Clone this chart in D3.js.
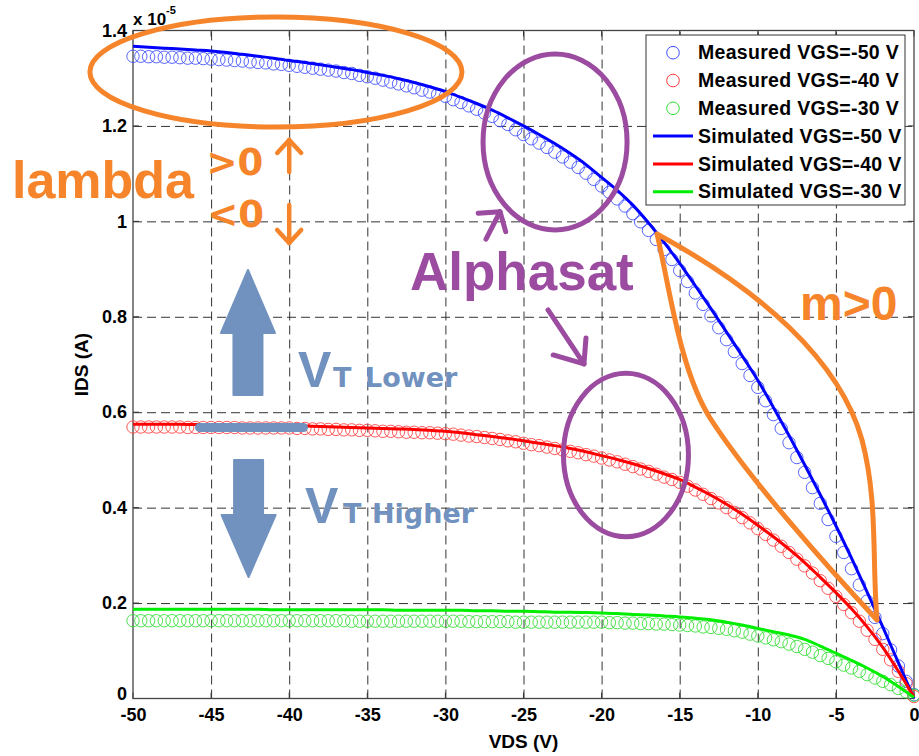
<!DOCTYPE html>
<html>
<head>
<meta charset="utf-8">
<script src="https://cdn.jsdelivr.net/npm/d3@7"></script>
<style>
  body { margin: 0; background: #fff; }
  svg { display: block; }
</style>
</head>
<body>
<svg id="chart" width="919" height="756"></svg>
<script>
// ---- Data: drain current (units of 1e-5 A) vs drain-source voltage ----
const vdsMeasured = [-50,-49.5,-49,-48.5,-48,-47.5,-47,-46.5,-46,-45.5,-45,-44.5,-44,-43.5,-43,-42.5,-42,-41.5,-41,-40.5,
  -40,-39.5,-39,-38.5,-38,-37.5,-37,-36.5,-36,-35.5,-35,-34.5,-34,-33.5,-33,-32.5,-32,-31.5,-31,-30.5,
  -30,-29.5,-29,-28.5,-28,-27.5,-27,-26.5,-26,-25.5,-25,-24.5,-24,-23.5,-23,-22.5,-22,-21.5,-21,-20.5,
  -20,-19.5,-19,-18.5,-18,-17.5,-17,-16.5,-16,-15.5,-15,-14.5,-14,-13.5,-13,-12.5,-12,-11.5,-11,-10.5,
  -10,-9.5,-9,-8.5,-8,-7.5,-7,-6.5,-6,-5.5,-5,-4.5,-4,-3.5,-3,-2.5,-2,-1.5,-1,-0.5,0];

const idsMeasuredVgs50 = [1.346,1.346,1.345,1.345,1.344,1.344,1.343,1.342,1.342,1.341,
  1.340,1.339,1.338,1.337,1.336,1.334,1.333,1.332,1.330,1.329,
  1.327,1.325,1.323,1.321,1.319,1.317,1.315,1.312,1.310,1.306,
  1.303,1.300,1.296,1.292,1.288,1.284,1.280,1.275,1.271,1.266,
  1.262,1.255,1.249,1.242,1.235,1.227,1.220,1.211,1.203,1.192,
  1.182,1.173,1.164,1.155,1.145,1.135,1.124,1.113,1.101,1.088,
  1.074,1.061,1.047,1.032,1.016,0.999,0.981,0.962,0.941,0.920,
  0.897,0.874,0.850,0.826,0.802,0.777,0.752,0.727,0.702,0.677,
  0.652,0.624,0.595,0.566,0.536,0.505,0.474,0.442,0.409,0.375,
  0.340,0.306,0.272,0.238,0.204,0.170,0.136,0.102,0.068,0.036,
  0.008];

const idsMeasuredVgs40 = [0.569,0.569,0.569,0.569,0.569,0.569,0.569,0.568,0.568,0.568,
  0.568,0.568,0.568,0.568,0.567,0.567,0.567,0.567,0.567,0.567,
  0.567,0.566,0.566,0.565,0.565,0.564,0.564,0.563,0.563,0.562,
  0.562,0.561,0.560,0.560,0.559,0.558,0.558,0.557,0.557,0.556,
  0.555,0.554,0.552,0.550,0.549,0.547,0.545,0.543,0.540,0.538,
  0.535,0.532,0.530,0.527,0.524,0.521,0.518,0.515,0.511,0.508,
  0.504,0.500,0.496,0.491,0.486,0.481,0.476,0.470,0.464,0.459,
  0.453,0.445,0.437,0.428,0.419,0.410,0.400,0.390,0.379,0.368,
  0.356,0.344,0.332,0.319,0.306,0.292,0.278,0.263,0.247,0.231,
  0.214,0.197,0.180,0.162,0.143,0.124,0.103,0.081,0.057,0.031,
  0.004];

const idsMeasuredVgs30 = [0.163,0.163,0.163,0.163,0.163,0.163,0.163,0.163,0.163,0.163,
  0.163,0.163,0.163,0.163,0.163,0.163,0.163,0.163,0.163,0.163,
  0.163,0.163,0.163,0.163,0.163,0.163,0.163,0.163,0.162,0.162,
  0.162,0.162,0.162,0.162,0.162,0.162,0.162,0.162,0.162,0.162,
  0.162,0.162,0.162,0.161,0.161,0.161,0.161,0.161,0.161,0.160,
  0.160,0.160,0.160,0.160,0.160,0.160,0.160,0.160,0.160,0.160,
  0.160,0.159,0.159,0.158,0.158,0.157,0.157,0.156,0.156,0.155,
  0.154,0.153,0.152,0.150,0.149,0.147,0.145,0.142,0.139,0.135,
  0.131,0.127,0.123,0.119,0.114,0.109,0.103,0.097,0.090,0.084,
  0.077,0.070,0.064,0.057,0.050,0.043,0.036,0.029,0.021,0.014,
  0.007];

const vdsSimulated = [-50,-49,-48,-47,-46,-45,-44,-43,-42,-41,-40,-39,-38,-37,-36,-35,-34,-33,-32,-31,
  -30,-29,-28,-27,-26,-25,-24,-23,-22,-21,-20,-19,-18,-17,-16,-15,-14,-13,-12,-11,
  -10,-9,-8,-7,-6,-5,-4,-3,-2,-1,0];

const idsSimulatedVgs50 = [1.367,1.365,1.363,1.361,1.359,1.357,1.354,1.350,1.346,1.342,
  1.337,1.333,1.328,1.323,1.318,1.312,1.306,1.299,1.291,1.282,
  1.272,1.260,1.247,1.233,1.217,1.200,1.182,1.163,1.142,1.119,
  1.092,1.065,1.034,0.997,0.956,0.912,0.865,0.817,0.768,0.718,
  0.667,0.610,0.551,0.490,0.427,0.362,0.294,0.223,0.150,0.075,
  0.000];

const idsSimulatedVgs40 = [0.575,0.575,0.575,0.575,0.574,0.574,0.574,0.573,0.573,0.572,
  0.572,0.571,0.570,0.569,0.568,0.567,0.566,0.565,0.564,0.562,
  0.560,0.557,0.553,0.549,0.545,0.540,0.535,0.530,0.524,0.517,
  0.509,0.501,0.492,0.482,0.471,0.459,0.443,0.426,0.407,0.386,
  0.363,0.339,0.313,0.285,0.254,0.222,0.188,0.150,0.107,0.057,
  0.003];

const idsSimulatedVgs30 = [0.187,0.187,0.187,0.187,0.187,0.187,0.187,0.187,0.187,0.186,
  0.186,0.186,0.186,0.186,0.186,0.186,0.186,0.185,0.185,0.185,
  0.185,0.185,0.184,0.184,0.183,0.183,0.182,0.181,0.181,0.180,
  0.179,0.178,0.176,0.175,0.173,0.171,0.168,0.165,0.160,0.154,
  0.147,0.140,0.133,0.124,0.110,0.095,0.080,0.064,0.046,0.025,
  0.002];

const xTickValues = [-50,-45,-40,-35,-30,-25,-20,-15,-10,-5,0];
const xTickLabels = ["-50","-45","-40","-35","-30","-25","-20","-15","-10","-5","0"];
const yTickValues = [0,0.2,0.4,0.6,0.8,1.0,1.2,1.4];
const yTickLabels = ["0","0.2","0.4","0.6","0.8","1","1.2","1.4"];
const legendLabels = ["Measured VGS=-50 V","Measured VGS=-40 V","Measured VGS=-30 V",
  "Simulated VGS=-50 V","Simulated VGS=-40 V","Simulated VGS=-30 V"];

// ---- Layout ----
const W = 919, H = 756;
const plot = { left: 133, right: 914, top: 30.5, bottom: 698.5 };
const FONT = "'Liberation Sans', Arial, Helvetica, sans-serif";
const WIDE = "'DejaVu Sans', Verdana, sans-serif";

const svg = d3.select("#chart");
const x = d3.scaleLinear().domain([-50, 0]).range([plot.left, plot.right]);
const y = d3.scaleLinear().domain([0, 1.4]).range([plot.bottom, plot.top]);

const measured = [
  { values: idsMeasuredVgs50, color: "#3b4bff" },
  { values: idsMeasuredVgs40, color: "#ff3b3b" },
  { values: idsMeasuredVgs30, color: "#2fdc2f" }
];
const simulated = [
  { values: idsSimulatedVgs50, color: "#0000ff" },
  { values: idsSimulatedVgs40, color: "#ff0000" },
  { values: idsSimulatedVgs30, color: "#00ee00" }
];

svg.append("rect").attr("width", W).attr("height", H).attr("fill", "#fff");

// ---- Dashed grid ----
const plotH = plot.bottom - plot.top, plotW = plot.right - plot.left;
svg.append("g")
  .attr("transform", `translate(0,${plot.bottom})`)
  .call(d3.axisBottom(x).tickValues(xTickValues.slice(1, -1)).tickSize(-plotH).tickFormat(""))
  .call(g => g.select(".domain").remove())
  .selectAll("line").attr("stroke", "#333").attr("stroke-width", 1).attr("stroke-dasharray", "9,5");
svg.append("g")
  .attr("transform", `translate(${plot.left},0)`)
  .call(d3.axisLeft(y).tickValues(yTickValues.slice(1, -1)).tickSize(-plotW).tickFormat(""))
  .call(g => g.select(".domain").remove())
  .selectAll("line").attr("stroke", "#333").attr("stroke-width", 1).attr("stroke-dasharray", "9,5");

// ---- Tick labels ----
const xAxisG = svg.append("g")
  .attr("transform", `translate(0,${plot.bottom})`)
  .call(d3.axisBottom(x).tickValues(xTickValues).tickFormat((d, i) => xTickLabels[i]).tickSize(0).tickPadding(10));
xAxisG.select(".domain").remove();
xAxisG.selectAll("text").style("font-family", FONT).style("font-size", "18px").style("font-weight", "bold").attr("fill", "#000");

const yAxisG = svg.append("g")
  .attr("transform", `translate(${plot.left},0)`)
  .call(d3.axisLeft(y).tickValues(yTickValues).tickFormat((d, i) => yTickLabels[i]).tickSize(0).tickPadding(6));
yAxisG.select(".domain").remove();
yAxisG.selectAll("text").style("font-family", FONT).style("font-size", "18px").style("font-weight", "bold").attr("fill", "#000");
// the origin label sits just above the corner so it clears the first x label
yAxisG.selectAll(".tick").filter(d => d === 0).select("text").attr("dy", "0.05em");

// ---- Inward ticks on all four sides ----
const tickG = svg.append("g").attr("stroke", "#333").attr("stroke-width", 1);
xTickValues.forEach(v => {
  tickG.append("line").attr("x1", x(v)).attr("x2", x(v)).attr("y1", plot.bottom).attr("y2", plot.bottom - 6);
  tickG.append("line").attr("x1", x(v)).attr("x2", x(v)).attr("y1", plot.top).attr("y2", plot.top + 6);
});
yTickValues.forEach(v => {
  tickG.append("line").attr("x1", plot.left).attr("x2", plot.left + 6).attr("y1", y(v)).attr("y2", y(v));
  tickG.append("line").attr("x1", plot.right).attr("x2", plot.right - 6).attr("y1", y(v)).attr("y2", y(v));
});

// ---- Axes box ----
svg.append("rect")
  .attr("x", plot.left).attr("y", plot.top).attr("width", plotW).attr("height", plotH)
  .attr("fill", "none").attr("stroke", "#444").attr("stroke-width", 1.3);

// ---- Exponent note and axis titles ----
const expo = svg.append("text").attr("x", plot.left).attr("y", 25)
  .style("font-family", FONT).style("font-weight", "bold").attr("fill", "#000");
expo.append("tspan").style("font-size", "17px").text("x 10");
expo.append("tspan").attr("dy", -11).style("font-size", "11px").text("-5");

svg.append("text")
  .attr("transform", `translate(88,${(plot.top + plot.bottom) / 2}) rotate(-90)`)
  .attr("text-anchor", "middle")
  .style("font-family", FONT).style("font-size", "19px").style("font-weight", "bold")
  .text("IDS (A)");
svg.append("text")
  .attr("x", (plot.left + plot.right) / 2).attr("y", 748)
  .attr("text-anchor", "middle")
  .style("font-family", FONT).style("font-size", "19px").style("font-weight", "bold")
  .text("VDS (V)");

// ---- Measured points (open circles) ----
measured.forEach(s => {
  svg.append("g").selectAll("circle")
    .data(vdsMeasured.map((v, i) => [v, s.values[i]]))
    .join("circle")
    .attr("cx", d => x(d[0])).attr("cy", d => y(d[1])).attr("r", 6.2)
    .attr("fill", "none").attr("stroke", s.color).attr("stroke-width", 1).attr("stroke-opacity", 0.85);
});

// ---- Simulated curves ----
const line = d3.line().x(d => x(d[0])).y(d => y(d[1])).curve(d3.curveMonotoneX);
simulated.forEach(s => {
  svg.append("path")
    .datum(vdsSimulated.map((v, i) => [v, s.values[i]]))
    .attr("d", line).attr("fill", "none").attr("stroke", s.color).attr("stroke-width", 3);
});

// ---- Legend ----
const leg = svg.append("g").attr("transform", "translate(646,35)");
leg.append("rect").attr("width", 259).attr("height", 170).attr("fill", "#fff").attr("stroke", "#333").attr("stroke-width", 1);
legendLabels.forEach((lab, i) => {
  const cy = 17.7 + i * 27.8;
  const isMeasured = i < 3;
  const color = isMeasured ? measured[i].color : simulated[i - 3].color;
  if (isMeasured) {
    leg.append("circle").attr("cx", 27).attr("cy", cy).attr("r", 6.3)
      .attr("fill", "none").attr("stroke", color).attr("stroke-width", 1);
  } else {
    leg.append("line").attr("x1", 7).attr("x2", 47).attr("y1", cy).attr("y2", cy)
      .attr("stroke", color).attr("stroke-width", 3);
  }
  leg.append("text").attr("x", 52).attr("y", cy + 6.6)
    .style("font-family", FONT).style("font-size", "19.5px").style("font-weight", "bold")
    .style("letter-spacing", "0.3px")
    .attr("fill", "#000").text(lab);
});

// ---- Annotations (anchored in VDS / IDS units) ----
const ORANGE = "#f5842a", PURPLE = "#9b4ba0", STEEL = "#7192bf";
const ann = svg.append("g");
const P = (vx, vy) => [x(vx), y(vy)];

function ellipse(cxv, cyv, rxv, ryv, color) {
  ann.append("ellipse")
    .attr("cx", x(cxv)).attr("cy", y(cyv))
    .attr("rx", x(cxv + rxv) - x(cxv)).attr("ry", y(cyv) - y(cyv + ryv))
    .attr("fill", "none").attr("stroke", color).attr("stroke-width", 5);
}
function polyline(pts, color, width) {
  ann.append("path").attr("d", d3.line()(pts))
    .attr("fill", "none").attr("stroke", color).attr("stroke-width", width)
    .attr("stroke-linecap", "round").attr("stroke-linejoin", "round");
}
function label(vx, vy, txt, color, size, family) {
  return ann.append("text").attr("x", x(vx)).attr("y", y(vy))
    .style("font-family", family || FONT).style("font-size", size + "px").style("font-weight", "bold")
    .attr("fill", color).text(txt);
}

// lambda region
ellipse(-40.85, 1.313, 11.91, 0.1153, ORANGE);
label(-57.75, 1.049, "lambda", ORANGE, 52);
label(-45.30, 1.0973, ">0", ORANGE, 37, WIDE);
label(-45.25, 0.9888, "<0", ORANGE, 37, WIDE);
{
  const [ax, upTip] = P(-40, 1.1706), upTail = y(1.1035);
  polyline([[ax, upTail], [ax, upTip]], ORANGE, 4.5);
  polyline([[ax - 12, upTip + 13], [ax, upTip], [ax + 12, upTip + 13]], ORANGE, 4.5);
  const dnTail = y(1.0344), dnTip = y(0.9548);
  polyline([[ax, dnTail], [ax, dnTip]], ORANGE, 4.5);
  polyline([[ax - 12, dnTip - 13], [ax, dnTip], [ax + 12, dnTip - 13]], ORANGE, 4.5);
}

// Alphasat regions
ellipse(-22.98, 1.1664, 4.61, 0.1844, PURPLE);
ellipse(-18.44, 0.5104, 4.0, 0.1712, PURPLE);
label(-32.27, 0.8562, "Alphasat", PURPLE, 53);
polyline([P(-27.40, 0.9626), P(-26.50, 1.0203)], PURPLE, 5);
polyline([P(-27.90, 1.0170), P(-26.50, 1.0203), P(-26.14, 0.9784)], PURPLE, 5);
polyline([P(-23.43, 0.8143), P(-21.13, 0.7011)], PURPLE, 5);
polyline([P(-23.10, 0.7200), P(-21.13, 0.7011), P(-21.0, 0.7556)], PURPLE, 5);

// m>0 leaf between the two slopes
{
  const a = P(-16.45, 0.9736), b = P(-2.369, 0.1646);
  const o1 = P(-9.859, 0.8562), o2 = P(-4.738, 0.7095), o3 = P(-3.329, 0.5418);
  const o4 = P(-2.305, 0.4160), o5 = P(-2.689, 0.2903);
  const i1 = P(-15.62, 0.8562), i2 = P(-14.98, 0.6885), i3 = P(-13.06, 0.5879);
  const i4 = P(-10.50, 0.4580), i5 = P(-5.378, 0.2693);
  const d = `M${a}C${o1} ${o2} ${o3}C${o4} ${o5} ${b}` +
            `M${a}C${i1} ${i2} ${i3}C${i4} ${i5} ${b}`;
  ann.append("path").attr("d", d).attr("fill", "none").attr("stroke", ORANGE)
    .attr("stroke-width", 5).attr("stroke-linejoin", "round").attr("stroke-linecap", "round");
}
label(-7.30, 0.7933, "m>0", ORANGE, 48);

// threshold-voltage arrows
function blockArrow(xc, tailV, baseV, tipV) {
  const cx = x(xc), t = y(tailV), b = y(baseV), p = y(tipV);
  const sw = 14.5, hw = 27;
  ann.append("path")
    .attr("d", `M${cx - sw},${t} L${cx - sw},${b} L${cx - hw},${b} L${cx},${p} L${cx + hw},${b} L${cx + sw},${b} L${cx + sw},${t} Z`)
    .attr("fill", STEEL).attr("stroke", STEEL).attr("stroke-width", 2).attr("stroke-linejoin", "round");
}
blockArrow(-42.64, 0.6361, 0.7661, 0.8981);
blockArrow(-42.60, 0.4999, 0.3846, 0.2546);
ann.append("rect")
  .attr("x", x(-46.03)).attr("y", y(0.568) - 4.5)
  .attr("width", x(-38.80) - x(-46.03)).attr("height", 9).attr("rx", 4.5)
  .attr("fill", STEEL);

label(-39.44, 0.6529, "V", STEEL, 50);
label(-37.20, 0.6529, "T", STEEL, 27, WIDE);
label(-35.15, 0.6529, "Lower", STEEL, 27, WIDE);
label(-38.99, 0.3678, "V", STEEL, 50);
label(-36.56, 0.3678, "T", STEEL, 27, WIDE);
label(-34.70, 0.3678, "Higher", STEEL, 27, WIDE);
</script>
</body>
</html>
